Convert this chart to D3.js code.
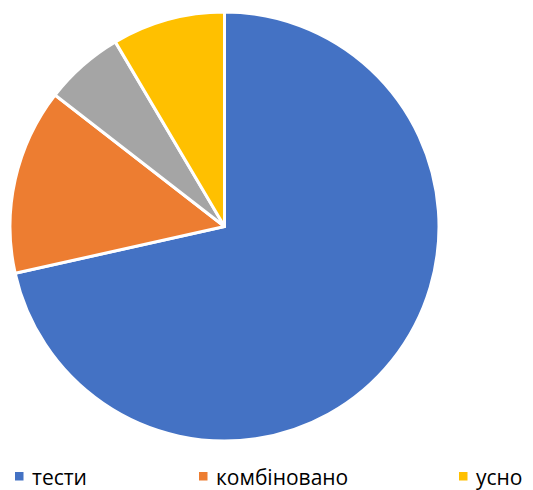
<!DOCTYPE html>
<html>
<head>
<meta charset="utf-8">
<script src="https://cdn.jsdelivr.net/npm/d3@7"></script>
<style>
  body { margin: 0; background: #fff; }
  svg { display: block; }
</style>
</head>
<body>
<div id="chart"></div>
<script>
// share of each assessment form, percent
const categories = ['тести', 'комбіновано', '', 'усно'];
const values = [71.5, 14, 6, 8.5];
const colors = ['#4472c4', '#ed7d31', '#a5a5a5', '#ffc000'];

const width = 533;
const height = 490;
const cx = 224.5;
const cy = 226.5;
const radius = 214.5;

const svg = d3.select('#chart')
  .append('svg')
  .attr('width', width)
  .attr('height', height);

const pie = d3.pie()
  .value((d) => d.value)
  .sort(null);

const arc = d3.arc()
  .innerRadius(0)
  .outerRadius(radius);

const data = categories.map((c, i) => ({ label: c, value: values[i], color: colors[i] }));

svg.append('g')
  .attr('transform', `translate(${cx},${cy})`)
  .selectAll('path')
  .data(pie(data))
  .enter().append('path')
  .attr('d', arc)
  .attr('fill', (d) => d.data.color)
  .attr('stroke', '#fff')
  .attr('stroke-width', 3)
  .attr('stroke-linejoin', 'round');

// legend: only labelled categories are listed
const legendX = [15, 199, 459];
const legendItems = data.filter((d) => d.label !== '');

const legend = svg.append('g')
  .selectAll('g')
  .data(legendItems)
  .enter().append('g')
  .attr('transform', (d, i) => `translate(${legendX[i]},472)`);

legend.append('rect')
  .attr('width', 8.5)
  .attr('height', 8.5)
  .attr('fill', (d) => d.color);

legend.append('text')
  .attr('x', 17)
  .attr('y', 13)
  .attr('font-family', 'Open Sans, sans-serif')
  .attr('font-size', 21)
  .attr('fill', '#000')
  .text((d) => d.label);
</script>
</body>
</html>
